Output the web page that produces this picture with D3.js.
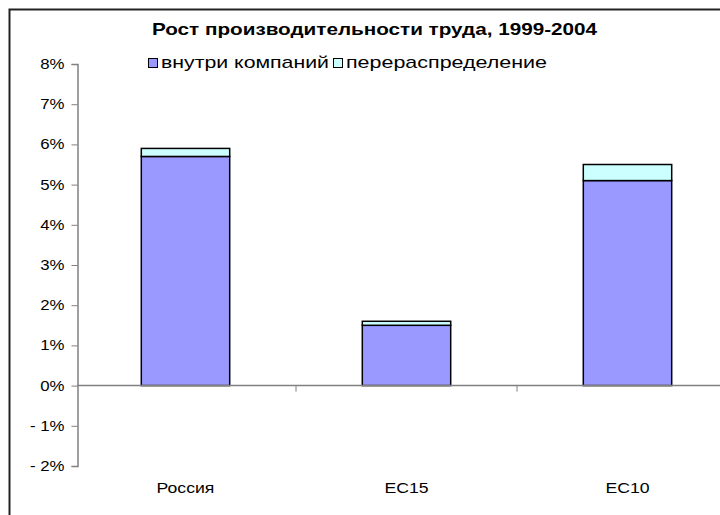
<!DOCTYPE html>
<html>
<head>
<meta charset="utf-8">
<script src="https://cdn.jsdelivr.net/npm/d3@7"></script>
<style>
  body { margin: 0; background: #fff; }
  text { font-family: Arial, "Liberation Sans", sans-serif; }
</style>
</head>
<body>
<div id="chart"></div>
<script>
// data
var categories = ["Россия", "ЕС15", "ЕС10"];
var inside = [5.7, 1.5, 5.1];        // внутри компаний
var realloc = [0.2, 0.1, 0.4];       // перераспределение
var seriesNames = ["внутри компаний", "перераспределение"];
var yTicks = [-2, -1, 0, 1, 2, 3, 4, 5, 6, 7, 8];

var width = 720, height = 515;
var colors = ["#9999ff", "#ccffff"];

// the original picture is a bit wider than its fonts, stretch text to fit
function stretch(sel, k){
	sel.each(function(){
		var w = this.getComputedTextLength();
		d3.select(this).attr("textLength", w * k).attr("lengthAdjust", "spacingAndGlyphs");
	});
}

var svg = d3.select("#chart").append("svg")
	.attr("width", width)
	.attr("height", height);

svg.append("rect").attr("width", width).attr("height", height).attr("fill", "#fff");

// chart frame (cropped on right/bottom)
svg.append("path")
	.attr("d", "M9.5," + height + "V9.5H" + width)
	.attr("fill", "none")
	.attr("stroke", "#222")
	.attr("stroke-width", 2);

// scales
var x = d3.scaleBand()
	.domain(categories)
	.range([75, 738])
	.paddingInner(0.6)
	.paddingOuter(0.3);

var y = d3.scaleLinear()
	.domain([-2, 8])
	.range([466, 64]);

// stacked data
var stackData = categories.map(function(c, i){
	return {cat: c, a: inside[i], b: realloc[i]};
});
var layers = d3.stack().keys(["a", "b"])(stackData);

// y axis
var yAxis = svg.append("g")
	.attr("transform", "translate(77.5,0)")
	.call(d3.axisLeft(y).tickValues(yTicks).tickSize(6).tickPadding(7)
		.tickFormat(function(d){ return d < 0 ? "- " + Math.abs(d) + "%" : d + "%"; }));
yAxis.select(".domain").attr("stroke", "#808080").attr("stroke-width", 1.5);
yAxis.selectAll(".tick line").attr("stroke", "#808080");
yAxis.selectAll(".tick text").attr("fill", "#000").style("font-size", "14px")
	.style("font-family", "Arial, 'Liberation Sans', sans-serif")
	.call(stretch, 1.2);

// bars
svg.append("g").selectAll("g")
	.data(layers)
	.enter().append("g")
	.attr("fill", function(d, i){ return colors[i]; })
	.selectAll("rect")
	.data(function(d){ return d; })
	.enter().append("rect")
	.attr("x", function(d){ return x(d.data.cat); })
	.attr("width", x.bandwidth())
	.attr("y", function(d){ return y(d[1]); })
	.attr("height", function(d){ return y(d[0]) - y(d[1]); })
	.attr("stroke", "#000")
	.attr("stroke-width", 1.5);

// x axis at zero
var xAxisG = svg.append("g").attr("transform", "translate(0," + y(0) + ")");
xAxisG.append("line")
	.attr("x1", 77).attr("x2", width)
	.attr("stroke", "#808080").attr("stroke-width", 1.5);
xAxisG.selectAll("line.sep")
	.data(categories.slice(1))
	.enter().append("line")
	.attr("class", "sep")
	.attr("x1", function(d){ return x(d) - x.step() * x.paddingInner() / 2; })
	.attr("x2", function(d){ return x(d) - x.step() * x.paddingInner() / 2; })
	.attr("y1", 0).attr("y2", 6)
	.attr("stroke", "#808080");

// category labels
svg.append("g").selectAll("text")
	.data(categories)
	.enter().append("text")
	.attr("x", function(d){ return x(d) + x.bandwidth() / 2; })
	.attr("y", 493)
	.attr("text-anchor", "middle")
	.style("font-size", "14px")
	.text(function(d){ return d; })
	.call(stretch, 1.26);

// title
svg.append("text")
	.attr("x", 374.5)
	.attr("y", 35)
	.attr("text-anchor", "middle")
	.attr("textLength", 445)
	.attr("lengthAdjust", "spacingAndGlyphs")
	.style("font-size", "17px")
	.style("font-weight", "bold")
	.text("Рост производительности труда, 1999-2004");

// legend
var legendX = [148, 333];
var legendW = [168, 201];
var legend = svg.append("g").selectAll("g")
	.data(seriesNames)
	.enter().append("g")
	.attr("transform", function(d, i){ return "translate(" + legendX[i] + ",58)"; });
legend.append("rect")
	.attr("x", 0.5).attr("y", 0.5)
	.attr("width", 9).attr("height", 9)
	.attr("fill", function(d, i){ return colors[i]; })
	.attr("stroke", "#000");
legend.append("text")
	.attr("x", 13)
	.attr("y", 10)
	.attr("textLength", function(d, i){ return legendW[i]; })
	.attr("lengthAdjust", "spacingAndGlyphs")
	.style("font-size", "17px")
	.text(function(d){ return d; });
</script>
</body>
</html>
